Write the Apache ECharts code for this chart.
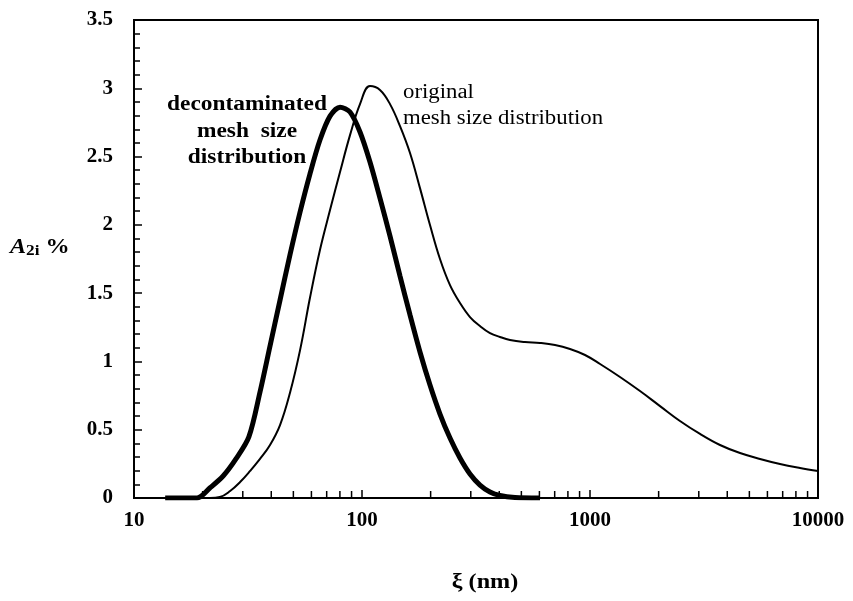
<!DOCTYPE html>
<html>
<head>
<meta charset="utf-8">
<script src="https://cdn.jsdelivr.net/npm/echarts@6/dist/echarts.min.js"></script>
<style>html,body{margin:0;padding:0;background:#fff}#c{width:853px;height:601px}</style>
</head>
<body>
<div id="c"></div>
<script>
// ---- data ----
const decontX = [13.7, 18.9, 21.5, 24.6, 28.0, 31.9, 35.7, 39.5, 43.7, 48.3, 53.5, 59.1, 65.4, 72.4, 80.1, 88.6, 98.0, 108.4, 119.9, 132.7, 146.8, 162.4, 179.6, 198.7, 219.8, 243.2, 269.0, 297.6, 329.2, 364.2, 402.9, 469, 603.5];
const decontY = [0, 0, 0.073, 0.161, 0.286, 0.447, 0.776, 1.113, 1.449, 1.779, 2.094, 2.372, 2.621, 2.796, 2.862, 2.826, 2.680, 2.460, 2.196, 1.918, 1.625, 1.340, 1.069, 0.827, 0.615, 0.439, 0.293, 0.176, 0.095, 0.044, 0.018, 0.004, 0];
const origX = [13.7, 21.5, 23.8, 26.4, 29.2, 32.3, 35.7, 39.5, 43.7, 48.3, 53.5, 59.1, 65.4, 72.4, 80.1, 88.6, 98.0, 108.4, 119.9, 132.7, 146.8, 162.4, 179.6, 198.7, 219.8, 243.2, 269.0, 297.6, 329.2, 364.2, 402.9, 445.7, 518.6, 603.5, 702.3, 817.2, 950.9, 1107, 1354, 1657, 2028, 2481, 3038, 3717, 4550, 5567, 6813, 8341, 10000];
const origY = [0, 0, 0.007, 0.051, 0.117, 0.198, 0.286, 0.388, 0.534, 0.769, 1.083, 1.464, 1.816, 2.108, 2.387, 2.657, 2.884, 3.016, 2.987, 2.884, 2.723, 2.526, 2.269, 1.999, 1.750, 1.559, 1.428, 1.325, 1.259, 1.208, 1.179, 1.157, 1.142, 1.135, 1.120, 1.091, 1.047, 0.981, 0.886, 0.783, 0.673, 0.564, 0.469, 0.388, 0.329, 0.286, 0.249, 0.220, 0.198];
const xMinorTicks = [20, 30, 40, 50, 60, 70, 80, 90, 200, 300, 400, 500, 600, 700, 800, 900, 2000, 3000, 4000, 5000, 6000, 7000, 8000, 9000];
const xAxisTitle = 'ξ (nm)';
const decontLabel = 'decontaminated\nmesh  size\ndistribution';
const origLabel = 'original\nmesh size distribution';

const zip = (a, b) => a.map((v, i) => [v, b[i]]);
const FONT = '"Liberation Serif", "DejaVu Serif", serif';

const chart = echarts.init(document.getElementById('c'));
chart.setOption({
  animation: false,
  backgroundColor: '#fff',
  grid: { left: 134, right: 35, top: 20, bottom: 103, show: true, borderColor: '#000', borderWidth: 2, backgroundColor: 'transparent' },
  xAxis: {
    type: 'log', logBase: 10, min: 10, max: 10000,
    axisLine: { show: true, onZero: false, lineStyle: { color: '#000', width: 2 } },
    axisTick: { show: true, inside: true, length: 8, lineStyle: { color: '#000', width: 1.5 } },
    splitLine: { show: false },
    axisLabel: { color: '#000', fontFamily: FONT, fontWeight: 'bold', fontSize: 21, margin: 12,
      formatter: v => String(Math.round(v)) }
  },
  yAxis: {
    type: 'value', min: 0, max: 3.5, interval: 0.5,
    axisLine: { show: true, lineStyle: { color: '#000', width: 2 } },
    axisTick: { show: true, inside: true, length: 8, lineStyle: { color: '#000', width: 1.5 } },
    minorTick: { show: true, splitNumber: 5, length: 6, lineStyle: { color: '#000', width: 1.5 } },
    splitLine: { show: false },
    axisLabel: { color: '#000', fontFamily: FONT, fontWeight: 'bold', fontSize: 21, margin: 21 }
  },
  series: [
    {
      type: 'line', data: zip(origX, origY), showSymbol: false, smooth: 0.4,
      lineStyle: { color: '#000', width: 2 }, z: 3
    },
    {
      type: 'line', data: zip(decontX, decontY), showSymbol: false, smooth: 0.3,
      lineStyle: { color: '#000', width: 5 }, z: 4
    },
    {
      type: 'custom', silent: true, clip: false, z: 2,
      data: xMinorTicks.map(v => [v, 0]),
      renderItem: (params, api) => {
        const p = api.coord([api.value(0), 0]);
        return { type: 'line', shape: { x1: p[0], y1: p[1], x2: p[0], y2: p[1] - 7 },
          style: { stroke: '#000', lineWidth: 1.5 } };
      }
    }
  ],
  graphic: [
    { type: 'text', x: 10, y: 236, scaleX: 1.15, style: {
        text: '{a|A}{s|2i}{p| %}',
        rich: {
          a: { fontFamily: FONT, fontStyle: 'italic', fontWeight: 'bold', fontSize: 21, fill: '#000' },
          s: { fontFamily: FONT, fontWeight: 'bold', fontSize: 15, fill: '#000', verticalAlign: 'bottom', padding: [8, 0, 0, 0] },
          p: { fontFamily: FONT, fontWeight: 'bold', fontSize: 21, fill: '#000' }
        } } },
    { type: 'text', x: 247, y: 92, scaleX: 1.17, style: { text: decontLabel, fontFamily: FONT, fontWeight: 'bold', fontSize: 20, lineHeight: 26.5, fill: '#000', align: 'center' } },
    { type: 'text', x: 403, y: 79, scaleX: 1.14, style: { text: origLabel, fontFamily: FONT, fontSize: 20, lineHeight: 26.5, fill: '#000', align: 'left' } },
    { type: 'text', x: 485, y: 583, scaleX: 1.15, style: { text: xAxisTitle, fontFamily: FONT, fontWeight: 'bold', fontSize: 21, fill: '#000', align: 'center', verticalAlign: 'middle' } }
  ]
});
</script>
</body>
</html>
